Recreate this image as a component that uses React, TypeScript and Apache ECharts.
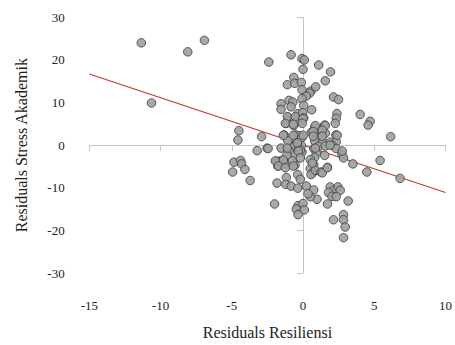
import React, { useEffect, useRef } from "react";
import * as echarts from "echarts";

const xTicks = [-15, -10, -5, 0, 5, 10];
const yTicks = [-30, -20, -10, 0, 10, 20, 30];
const xTitle = "Residuals Resiliensi";
const yTitle = "Residuals Stress Akademik";

const resX = [
  -11.35, -10.63, -8.09, -6.92, -2.4, -0.84, -0.07, 0.09, 0.0, 1.1, 1.93, 1.56, -0.65, -1.1, -0.58, -0.12,
  -0.07, 0.56, 0.89, 0.47, 0.23, 2.14, 2.49, -0.07, -0.98, -0.72, -1.54, -1.54, -0.84, 0.05, 0.61, -0.35,
  -0.02, 2.38, 2.33, 4.01, 4.71, 4.57, -1.03, -0.58, -0.3, 0.05, -1.19, -0.65, 1.52, 0.82, 1.21, 0.58,
  1.56, -4.5, -2.91, 6.15, -1.33, -0.49, -0.23, -0.07, 2.31, -4.57, -1.07, 0.98, 0.82, 1.38, 1.91, 2.33,
  2.07, 2.33, -0.47, -0.12, -0.65, -1.54, -2.52, -2.45, -3.22, -0.93, -0.3, -0.07, 0.75, 1.1, 0.93, 0.82,
  -0.58, -1.14, 1.52, 2.73, 2.84, 0.51, -1.86, -1.49, -1.19, -0.56, 0.75, 3.5, 5.41, 4.48, 6.81, -4.85,
  -4.38, -4.31, -4.08, -4.94, -3.71, -1.77, -1.68, 0.51, 0.68, 0.56, 0.86, 1.26, 1.72, -0.37, -0.19, -1.82,
  -1.17, -1.21, -0.84, -0.37, 0.23, 0.75, 0.98, 0.51, 0.35, 1.91, 2.14, 2.45, 2.61, 1.79, 2.03, 2.33,
  3.17, 1.72, -2.0, -0.35, 0.0, -0.47, 0.09, -0.35, 2.14, 2.84, 2.84, 2.96, 2.84,
  -1.1, -0.54, 0.0, -1.24, -0.68, -0.05, 0.86, 1.56, 2.26, 0.72, 1.35, -1.38, -0.68, 0.02, 0.72, 1.35,
  2.4, -0.4, -1.1, -0.19, 0.86, 1.56, 1.9, 2.75, -1.94, -1.38, -0.75, -0.33, -0.19, -1.73, -1.24, -0.68,
  0.65, 1.35, 1.7
];
const resY = [
  24.0, 9.9, 21.9, 24.6, 19.5, 21.2, 20.3, 20.0, 17.8, 18.8, 17.2, 15.1, 15.9, 14.2, 14.5, 14.7,
  13.0, 12.7, 13.7, 12.2, 11.5, 11.3, 10.7, 10.9, 10.5, 10.1, 9.7, 8.4, 9.0, 9.3, 8.3, 7.4,
  7.6, 7.4, 6.3, 7.2, 5.6, 4.7, 6.5, 6.1, 5.6, 6.4, 5.1, 4.6, 4.7, 4.1, 3.7, 3.0,
  2.8, 3.4, 2.0, 2.0, 2.4, 2.4, 2.2, 1.8, 2.4, 1.2, 1.0, 1.8, 1.0, 0.7, 0.7, 0.8,
  -0.1, -0.8, 0.4, -0.1, -0.4, -0.7, -0.7, -0.8, -1.3, -1.5, -0.8, -1.6, -0.8, -0.3, -1.9, -2.9,
  -2.4, -2.4, -2.4, -2.2, -3.0, -3.4, -3.8, -3.6, -4.4, -4.7, -4.6, -4.4, -3.6, -6.3, -7.8, -4.0,
  -3.6, -4.4, -5.7, -6.3, -8.3, -4.9, -3.8, -5.5, -6.5, -6.9, -5.9, -6.3, -5.2, -6.9, -8.0, -8.9,
  -7.6, -9.2, -9.6, -10.1, -9.6, -10.5, -12.7, -12.1, -11.4, -9.8, -10.6, -9.8, -10.6, -11.1, -12.0, -12.1,
  -13.1, -13.8, -13.8, -14.2, -13.7, -15.0, -15.2, -16.3, -17.5, -16.3, -17.5, -19.2, -21.7,
  6.7, 6.7, 6.2, 5.1, 4.9, 5.1, 4.6, 4.6, 5.1, 3.2, 3.5, 2.3, 2.3, 2.3, 2.1, 2.1,
  2.3, 0.5, -0.7, -1.2, -0.7, -0.2, 0.0, -1.4, -3.7, -3.5, -3.7, -1.4, -3.0, -4.9, -5.3, -4.9,
  -4.2, -6.5, -5.3
];
const lineX = [-15, 10];
const lineY = [16.7, -11.1];

export default function App() {
  const ref = useRef<HTMLDivElement>(null);
  useEffect(() => {
    if (!ref.current) return;
    const chart = echarts.init(ref.current, null, { renderer: "svg" });
    const font = "Liberation Serif, Times New Roman, serif";
    const axisColor = "#c4c4c4";
    chart.setOption({
      animation: false,
      backgroundColor: "#ffffff",
      textStyle: { fontFamily: font },
      grid: { left: 89.3, right: 8, top: 17.3, bottom: 68.7, containLabel: false },
      xAxis: {
        type: "value",
        min: xTicks[0],
        max: xTicks[xTicks.length - 1],
        interval: 5,
        offset: 14,
        name: xTitle,
        nameLocation: "middle",
        nameGap: 37,
        nameTextStyle: { fontFamily: font, fontSize: 16, color: "#222" },
        axisLine: { show: true, lineStyle: { color: axisColor, width: 1 } },
        axisTick: { show: true, length: 6, lineStyle: { color: axisColor } },
        axisLabel: { fontFamily: font, fontSize: 13, color: "#222", margin: 12 },
        splitLine: { show: false },
      },
      yAxis: {
        type: "value",
        min: yTicks[0],
        max: yTicks[yTicks.length - 1],
        interval: 10,
        offset: 17.6,
        name: yTitle,
        nameLocation: "middle",
        nameGap: 42,
        nameTextStyle: { fontFamily: font, fontSize: 16, color: "#222" },
        axisLine: { show: true, lineStyle: { color: axisColor, width: 1 } },
        axisTick: { show: true, length: 6, lineStyle: { color: axisColor } },
        axisLabel: { fontFamily: font, fontSize: 13, color: "#222", margin: 7 },
        splitLine: { show: false },
      },
      series: [
        {
          type: "line",
          data: lineX.map((x, i) => [x, lineY[i]]),
          showSymbol: false,
          symbol: "none",
          lineStyle: { color: "#c0392b", width: 1.2 },
          z: 1,
        },
        {
          type: "scatter",
          data: resX.map((x, i) => [x, resY[i]]),
          symbolSize: 8.5,
          itemStyle: { color: "#a0a0a0", borderColor: "#454545", borderWidth: 1, opacity: 0.9 },
          z: 2,
        },
      ],
    });
    return () => chart.dispose();
  }, []);
  return <div ref={ref} style={{ width: 455, height: 345, position: "absolute", left: 0, top: 0 }} />;
}
